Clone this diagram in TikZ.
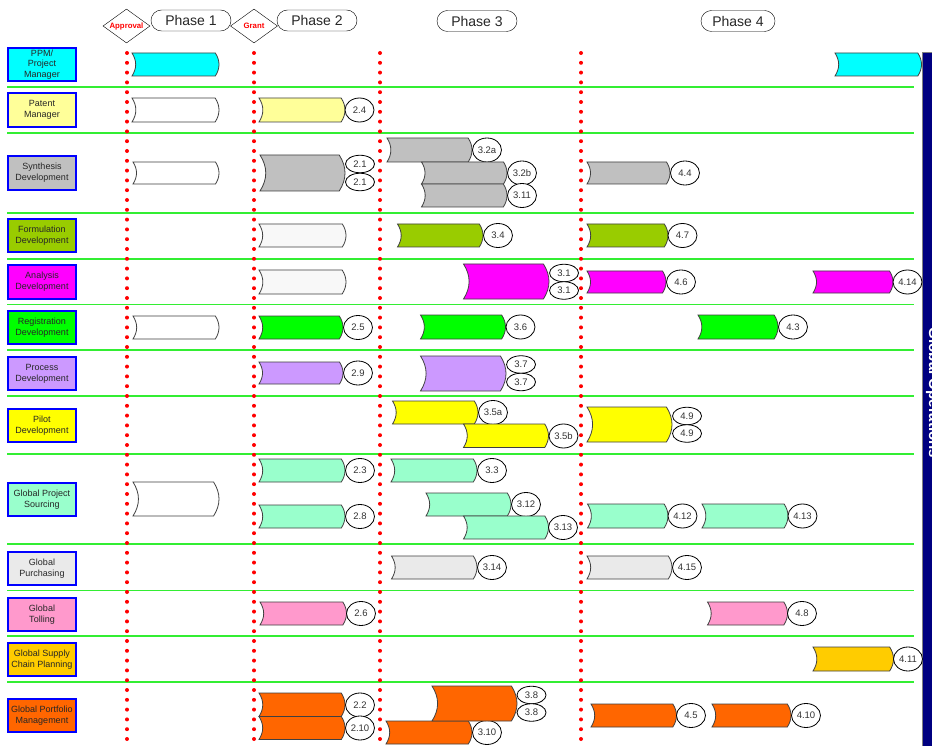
\documentclass[tikz,border=0pt]{standalone}
\usepackage{fontspec}
\setmainfont{Liberation Sans}
\usetikzlibrary{shapes.geometric}
\definecolor{ppmcol}{HTML}{00FFFF}
\definecolor{patcol}{HTML}{FFFF99}
\definecolor{syncol}{HTML}{C0C0C0}
\definecolor{formcol}{HTML}{99CC00}
\definecolor{anacol}{HTML}{FF00FF}
\definecolor{regcol}{HTML}{00FF00}
\definecolor{procol}{HTML}{CC99FF}
\definecolor{pilcol}{HTML}{FFFF00}
\definecolor{gpscol}{HTML}{99FFCC}
\definecolor{purcol}{HTML}{EAEAEA}
\definecolor{tolcol}{HTML}{FF99CC}
\definecolor{supcol}{HTML}{FFCC00}
\definecolor{porcol}{HTML}{FF6600}
\definecolor{navybar}{HTML}{000080}
\definecolor{rowgreen}{HTML}{33EE33}
\definecolor{paleshade}{HTML}{F8F8F8}
\newcommand{\taskbar}[5]{%
        \pgfmathsetmacro{\tbh}{#4-#3}%
        \pgfmathsetmacro{\tbd}{0.16*\tbh}%
        \filldraw[bar, fill=#5] (#1,#3) -- ({#2-\tbd},#3)
                .. controls ({#2+\tbd/3},{#3+\tbh/3}) and ({#2+\tbd/3},{#4-\tbh/3}) .. ({#2-\tbd},#4)
                -- (#1,#4)
                .. controls ({#1+4*\tbd/3},{#4-\tbh/3}) and ({#1+4*\tbd/3},{#3+\tbh/3}) .. cycle;}

\begin{document}
\begin{tikzpicture}[x=1pt,y=-1pt,
        lbl/.style={draw=blue, line width=1.6pt, minimum width=68.5pt, minimum height=33.5pt,
                align=center, inner sep=1pt, font=\fontsize{9}{10.7}\selectfont, text=black!85},
        bar/.style={draw=black!75, line width=0.8pt},
        oval/.style={ellipse, draw=black, fill=white, line width=0.8pt, minimum width=29pt,
                minimum height=24pt, inner sep=0pt, font=\fontsize{9.5}{10}\selectfont, text=black!80},
        halfoval/.style={oval, minimum height=17.5pt},
        phase/.style={draw, rounded corners=10.5pt, minimum height=21pt, inner sep=2pt,
                font=\fontsize{14}{16}\selectfont, text=black!85},
        gate/.style={diamond, draw, fill=white, aspect=1.4, minimum width=47pt, minimum height=34pt,
                inner sep=0pt, font=\bfseries\fontsize{7.8}{8}\selectfont, text=red},
        rowline/.style={draw=rowgreen, line width=1.2pt},
        phaseline/.style={draw=red, line width=4pt, line cap=round, dash pattern=on 0pt off 9.8pt}]
        \useasboundingbox (0,0) rectangle (932,746);
        \fill[white] (0,0) rectangle (932,746);

        \foreach \y in {87,133,213,259,304.5,350,396,454,544,590.5,636,682}
                \draw[rowline] (7,\y) -- (914,\y);
        \foreach \x in {127,254,380,581}
                \draw[phaseline] (\x,53) -- (\x,752);

        \filldraw[fill=navybar, draw=gray, line width=0.6pt] (922,52) rectangle (960,760);
        \node[rotate=-90, anchor=south, text=white, font=\bfseries\fontsize{15}{16}\selectfont] (globops) at (922.5,393) {Global Operations};

        \node[phase, minimum width=80pt] (phasea) at (191,20.5) {Phase 1};
        \node[phase, minimum width=80pt] (phaseb) at (317,20.5) {Phase 2};
        \node[phase, minimum width=80pt] (phasec) at (477,21) {Phase 3};
        \node[phase, minimum width=74pt] (phased) at (738,21) {Phase 4};
        \node[gate] (approval) at (126.5,26) {Approval};
        \node[gate] (grant) at (254,26) {Grant};

        \node[lbl, fill=ppmcol] (ppm) at (42,64.5) {PPM/\\Project\\Manager};
        \node[lbl, fill=patcol] (patent) at (42,110) {Patent\\Manager};
        \node[lbl, fill=syncol] (synth) at (42,173) {Synthesis\\Development};
        \node[lbl, fill=formcol] (form) at (42,235.5) {Formulation\\Development};
        \node[lbl, fill=anacol] (analysis) at (42,282) {Analysis\\Development};
        \node[lbl, fill=regcol] (regis) at (42,327.5) {Registration\\Development};
        \node[lbl, fill=procol] (process) at (42,373.5) {Process\\Development};
        \node[lbl, fill=pilcol] (pilot) at (42,425.5) {Pilot\\Development};
        \node[lbl, fill=gpscol] (sourcing) at (42,499.5) {Global Project\\Sourcing};
        \node[lbl, fill=purcol] (purchasing) at (42,568.5) {Global\\Purchasing};
        \node[lbl, fill=tolcol] (tolling) at (42,614.5) {Global\\Tolling};
        \node[lbl, fill=supcol] (supply) at (42,659.5) {Global Supply\\Chain Planning};
        \node[lbl, fill=porcol] (portfolio) at (42,715.5) {Global Portfolio\\Management};

        \taskbar{132}{219}{53}{76}{ppmcol}
        \taskbar{835}{921.5}{53}{76}{ppmcol}

        \taskbar{132}{219}{98}{122}{white}
        \taskbar{259}{345}{98}{122}{patcol}
        \node[oval] (p24) at (359.5,110) {2.4};

        \taskbar{133}{219}{162}{184}{white}
        \taskbar{260}{345}{155}{191}{syncol}
        \node[halfoval] (s21a) at (360,164) {2.1};
        \node[halfoval] (s21b) at (360,182) {2.1};
        \taskbar{387}{472}{138}{162}{syncol}
        \node[oval] (s32a) at (487,150) {3.2a};
        \taskbar{421.5}{507}{162}{184}{syncol}
        \node[oval] (s32b) at (522,173) {3.2b};
        \taskbar{421.5}{507}{184}{207}{syncol}
        \node[oval] (s311) at (522,195.5) {3.11};
        \taskbar{587}{670}{162}{184}{syncol}
        \node[oval] (s44) at (685,173) {4.4};

        \taskbar{259}{346}{224}{247}{paleshade}
        \taskbar{397.5}{483}{224}{247}{formcol}
        \node[oval] (f34) at (498,235.5) {3.4};
        \taskbar{587}{668}{224}{247}{formcol}
        \node[oval] (f47) at (682.5,235.5) {4.7};

        \taskbar{259}{346}{270}{294}{paleshade}
        \taskbar{463.5}{549}{264}{299}{anacol}
        \node[halfoval] (a31a) at (564,273) {3.1};
        \node[halfoval] (a31b) at (564,290.5) {3.1};
        \taskbar{587}{666}{271}{293}{anacol}
        \node[oval] (a46) at (681,282) {4.6};
        \taskbar{813}{893}{271}{293}{anacol}
        \node[oval] (a414) at (907.5,282) {4.14};

        \taskbar{133}{219}{316}{339}{white}
        \taskbar{259}{343}{316}{339}{regcol}
        \node[oval] (r25) at (358,327.5) {2.5};
        \taskbar{420.5}{505.5}{315}{339}{regcol}
        \node[oval] (r36) at (520.5,327) {3.6};
        \taskbar{698}{778}{315}{339}{regcol}
        \node[oval] (r43) at (793,327) {4.3};

        \taskbar{259}{343}{362}{384}{procol}
        \node[oval] (c29) at (358,373) {2.9};
        \taskbar{420.5}{506}{356}{391}{procol}
        \node[halfoval] (c37a) at (521,364.5) {3.7};
        \node[halfoval] (c37b) at (521,382) {3.7};

        \taskbar{392.5}{478}{401}{424}{pilcol}
        \node[oval] (l35a) at (493,412.5) {3.5a};
        \taskbar{463.5}{548.5}{424}{447.5}{pilcol}
        \node[oval] (l35b) at (563.5,436) {3.5b};
        \taskbar{587}{672}{407}{442}{pilcol}
        \node[halfoval] (l49a) at (687,416) {4.9};
        \node[halfoval] (l49b) at (687,433.5) {4.9};

        \taskbar{133}{219}{482}{516}{white}
        \taskbar{259}{345}{459}{482}{gpscol}
        \node[oval] (g23) at (360,470.5) {2.3};
        \taskbar{259}{345}{505}{528}{gpscol}
        \node[oval] (g28) at (360,516.5) {2.8};
        \taskbar{391}{477}{459}{482}{gpscol}
        \node[oval] (g33) at (492,470.5) {3.3};
        \taskbar{426}{511}{493}{516}{gpscol}
        \node[oval] (g312) at (526,504.5) {3.12};
        \taskbar{463.5}{548.5}{516}{539}{gpscol}
        \node[oval] (g313) at (563,527.5) {3.13};
        \taskbar{587.5}{668}{504}{528}{gpscol}
        \node[oval] (g412) at (682.5,516) {4.12};
        \taskbar{702}{788}{504}{528}{gpscol}
        \node[oval] (g413) at (802.5,516) {4.13};

        \taskbar{391.5}{477}{556}{579}{purcol}
        \node[oval] (u314) at (492,567.5) {3.14};
        \taskbar{587}{672}{556}{579}{purcol}
        \node[oval] (u415) at (687,567.5) {4.15};

        \taskbar{260}{346.5}{602}{625}{tolcol}
        \node[oval] (t26) at (361,613.5) {2.6};
        \taskbar{707.5}{787.5}{602}{625}{tolcol}
        \node[oval] (t48) at (802,613.5) {4.8};

        \taskbar{813}{893.5}{647}{671}{supcol}
        \node[oval] (y411) at (908,659) {4.11};

        \taskbar{259}{345}{693}{716.5}{porcol}
        \node[oval] (m22) at (360,705) {2.2};
        \taskbar{259}{345}{716.5}{739.5}{porcol}
        \node[oval] (m210) at (360,728) {2.10};
        \taskbar{386}{472}{721}{744}{porcol}
        \node[oval] (m310) at (487,732.5) {3.10};
        \taskbar{432}{517}{686}{721}{porcol}
        \node[halfoval] (m38a) at (531.5,695) {3.8};
        \node[halfoval] (m38b) at (531.5,712.5) {3.8};
        \taskbar{591}{676.5}{704}{727}{porcol}
        \node[oval] (m45) at (691,715.5) {4.5};
        \taskbar{712}{791}{704}{727}{porcol}
        \node[oval] (m410) at (806,715.5) {4.10};
\end{tikzpicture}
\end{document}
